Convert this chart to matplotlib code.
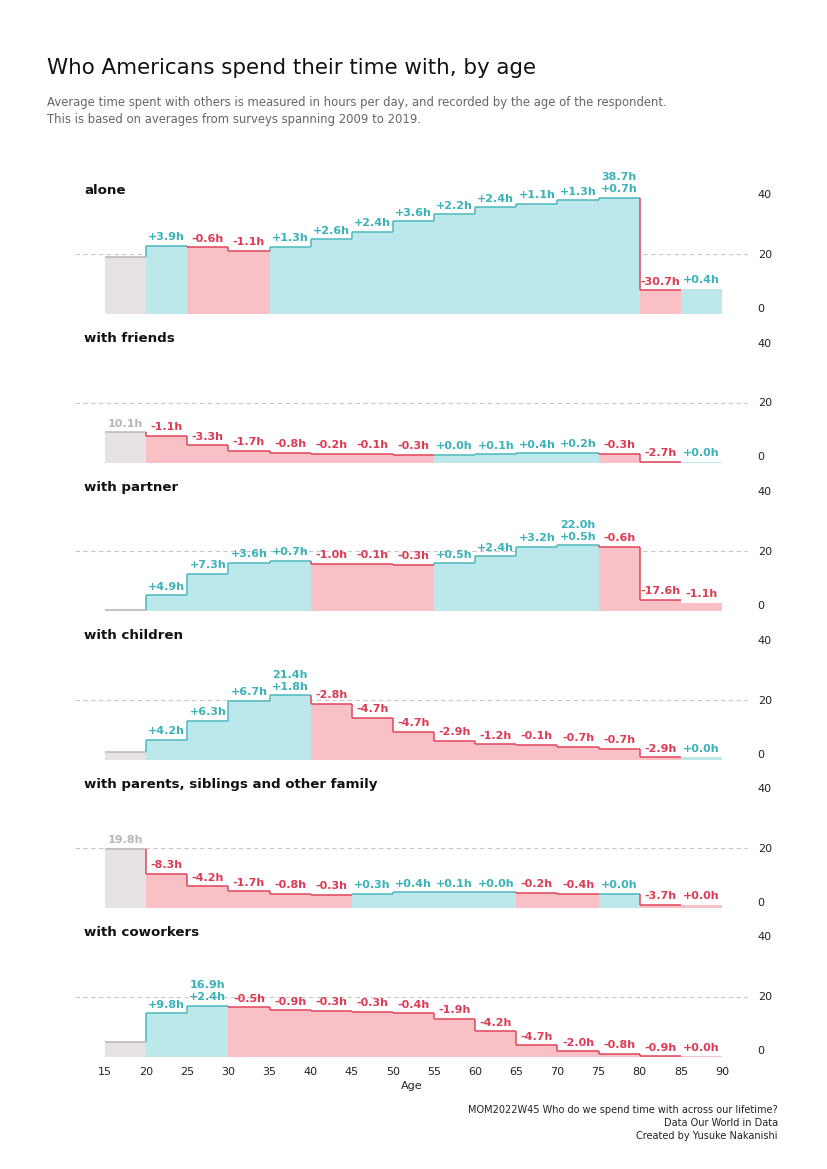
#!/usr/bin/env python3
###############################################################################
#
# Who Americans spend their time with, by age (step / waterfall panels)
#
###############################################################################

import matplotlib
matplotlib.use("Agg")
import matplotlib.pyplot as plt

plt.rcParams["font.family"] = ["DejaVu Sans"]

#------------------------------------------------------------------------------
# Data: hours per day, by 5-year age group (15-20 ... 85-90)
#------------------------------------------------------------------------------

ages = [15, 20, 25, 30, 35, 40, 45, 50, 55, 60, 65, 70, 75, 80, 85]

alone     = [18.9, 22.8, 22.2, 21.1, 22.4, 25.0, 27.4, 31.0, 33.2, 35.6, 36.7, 38.0, 38.7, 8.0, 8.4]
friends   = [10.1, 9.0, 5.7, 4.0, 3.2, 3.0, 2.9, 2.6, 2.62, 2.7, 3.1, 3.3, 3.0, 0.3, 0.32]
partner   = [0.3, 5.2, 12.5, 16.1, 16.8, 15.8, 15.7, 15.4, 15.9, 18.3, 21.5, 22.0, 21.4, 3.8, 2.7]
children  = [2.4, 6.6, 12.9, 19.6, 21.4, 18.6, 13.9, 9.2, 6.3, 5.1, 5.0, 4.3, 3.6, 0.7, 0.72]
family    = [19.8, 11.5, 7.3, 5.6, 4.8, 4.5, 4.8, 5.2, 5.3, 5.32, 5.12, 4.72, 4.74, 1.04, 1.02]
coworkers = [4.7, 14.5, 16.9, 16.4, 15.5, 15.2, 14.9, 14.5, 12.6, 8.4, 3.7, 1.7, 0.9, 0.02, 0.01]

panels = [
    ("alone", alone),
    ("with friends", friends),
    ("with partner", partner),
    ("with children", children),
    ("with parents, siblings and other family", family),
    ("with coworkers", coworkers),
]

xticks = [15, 20, 25, 30, 35, 40, 45, 50, 55, 60, 65, 70, 75, 80, 85, 90]
yticks = [0, 20, 40]

#------------------------------------------------------------------------------
# Colours
#------------------------------------------------------------------------------

GRAY_FILL, GRAY_LINE, GRAY_TEXT = "#e7e3e2", "#bdb5b3", "#bdb5b3"
UP_FILL, UP_LINE, UP_TEXT = "#bde8eb", "#4cb9be", "#3ab2b7"
DN_FILL, DN_LINE, DN_TEXT = "#f9c0c6", "#e0455a", "#dc3b53"

#------------------------------------------------------------------------------

W, H = 827, 1169
fig = plt.figure(figsize=(W / 100, H / 100), dpi=100)

fig.text(47 / W, 1 - 68 / H, "Who Americans spend their time with, by age",
         fontsize=15.4, color="#111111", va="center", ha="left")
fig.text(47 / W, 1 - 111 / H,
         "Average time spent with others is measured in hours per day, and recorded by the age of the respondent.\n"
         "This is based on averages from surveys spanning 2009 to 2019.",
         fontsize=8.35, color="#666666", va="center", ha="left", linespacing=1.4)

for line, y in [("MOM2022W45 Who do we spend time with across our lifetime?", 1110),
                ("Data Our World in Data", 1123),
                ("Created by Yusuke Nakanishi", 1136)]:
    fig.text(778 / W, 1 - y / H, line, fontsize=7.0, color="#222222",
             ha="right", va="center")

#------------------------------------------------------------------------------

px_per_year = (722 - 105) / 75
x_lo = 15 - (105 - 75) / px_per_year
x_hi = 90 + (748 - 722) / px_per_year
y_lo, y_hi = -2, 46
px_per_h = 3.0

def fmt(d):
    s = f"{d:+.1f}"
    if s == "-0.0":
        s = "+0.0"
    return s + "h"

for i, (name, vals) in enumerate(panels):
    zero_px = 314 + 148.5 * i
    top_px = zero_px - y_hi * px_per_h
    height_px = (y_hi - y_lo) * px_per_h
    ax = fig.add_axes([75 / W, 1 - (top_px + height_px) / H, (748 - 75) / W, height_px / H])
    ax.set_xlim(x_lo, x_hi)
    ax.set_ylim(y_lo, y_hi)

    for s in ax.spines.values():
        s.set_visible(False)

    ax.axhline(20, color="#c8c8c8", linewidth=0.8, linestyle=(0, (4, 3)), zorder=0)

    deltas = [None] + [vals[k] - vals[k - 1] for k in range(1, len(vals))]
    fills, lines, texts = [], [], []
    for k, d in enumerate(deltas):
        if d is None:
            fills.append(GRAY_FILL); lines.append(GRAY_LINE); texts.append(GRAY_TEXT)
        elif d >= 0:
            fills.append(UP_FILL); lines.append(UP_LINE); texts.append(UP_TEXT)
        else:
            fills.append(DN_FILL); lines.append(DN_LINE); texts.append(DN_TEXT)

    ax.bar(ages, vals, width=5, align="edge", color=fills, linewidth=0, zorder=1)

    # step outline (no outline on last age group)
    for k in range(len(vals) - 1):
        x0 = ages[k]
        ax.plot([x0, x0 + 5], [vals[k], vals[k]], color=lines[k], linewidth=1.1,
                solid_capstyle="butt", zorder=2)
        if k > 0:
            ax.plot([x0, x0], [vals[k - 1], vals[k]], color=lines[k], linewidth=1.1,
                    solid_capstyle="butt", zorder=2)

    # labels
    peak = max(range(len(vals)), key=lambda k: vals[k])
    for k, d in enumerate(deltas):
        if d is None and k != peak:
            continue
        if d is None:
            txt = f"{vals[k]:.1f}h"
        elif k == peak:
            txt = f"{vals[k]:.1f}h\n" + fmt(d)
        else:
            txt = fmt(d)
        ax.annotate(txt, xy=(ages[k] + 2.5, vals[k]), xytext=(0, 2.5),
                    textcoords="offset points", ha="center", va="bottom",
                    fontsize=8, fontweight="bold", color=texts[k],
                    linespacing=1.25, zorder=3)

    ax.text(9 / 673, 41.3, name, transform=ax.get_yaxis_transform(),
            fontsize=9.6, fontweight="bold", color="#111111", va="center", ha="left")

    ax.yaxis.tick_right()
    ax.set_yticks(yticks)
    ax.set_yticklabels([str(t) for t in yticks])
    ax.tick_params(axis="y", length=0, pad=7, labelsize=8, labelcolor="#222222")
    ax.get_yticklabels()[0].set_va("bottom")

    if i == len(panels) - 1:
        ax.set_xticks(xticks)
        ax.set_xticklabels([str(t) for t in xticks])
        ax.tick_params(axis="x", length=0, pad=3, labelsize=8, labelcolor="#222222")
        ax.set_xlabel("Age", fontsize=8, color="#222222", labelpad=3)
    else:
        ax.set_xticks([])

#------------------------------------------------------------------------------

fig.savefig("out.png", dpi=100, facecolor="white")
